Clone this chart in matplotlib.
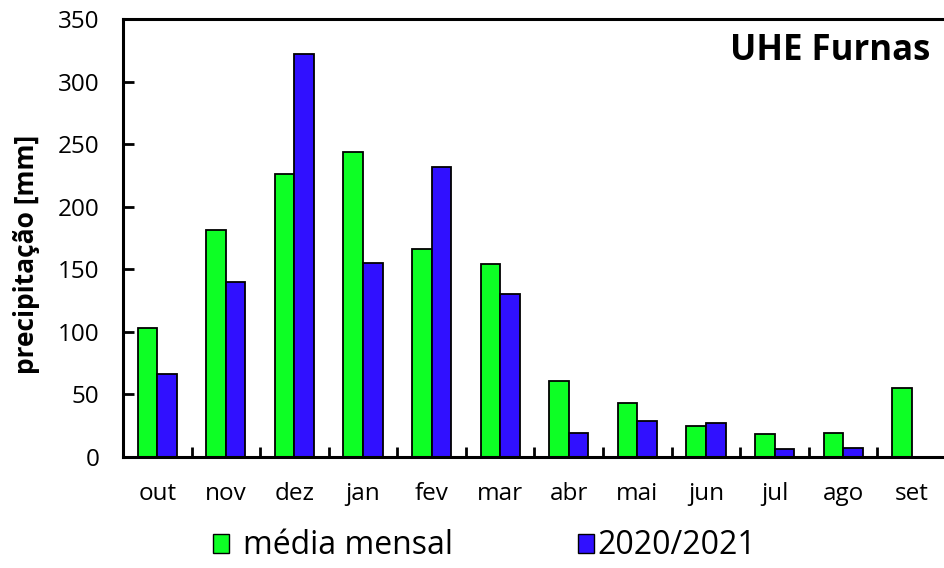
import matplotlib
matplotlib.use('Agg')
import matplotlib.pyplot as plt
import matplotlib.patches as mpatches
import numpy as np

meses = ['out', 'nov', 'dez', 'jan', 'fev', 'mar', 'abr', 'mai', 'jun', 'jul', 'ago', 'set']
media_mensal = [103, 181, 226, 244, 166, 154, 61, 43, 25, 18, 19, 55]
chuva_2020_2021 = [66, 140, 322, 155, 232, 130, 19, 29, 27, 6, 7, np.nan]
yticks = [0, 50, 100, 150, 200, 250, 300, 350]

plt.rcParams['font.family'] = ['Open Sans', 'DejaVu Sans']

verde = '#0dff25'
azul = '#3010ff'

fig = plt.figure(figsize=(9.44, 5.68), dpi=100)
ax = fig.add_axes([123 / 944, 1 - 457 / 568, 823 / 944, 438 / 568])

x = np.arange(len(meses)) + 0.5
w = 0.285
ax.bar(x - w / 2, media_mensal, w, color=verde, edgecolor='black', linewidth=1.3)
ax.bar(x + w / 2, chuva_2020_2021, w, color=azul, edgecolor='black', linewidth=1.3)

ax.set_xlim(0, len(meses))
ax.set_ylim(0, 350)
ax.set_yticks(yticks)
ax.set_xticks(x)
ax.set_xticklabels(meses)
ax.set_xticks(np.arange(1, len(meses)), minor=True)
ax.tick_params(axis='x', which='major', length=0, pad=18, labelsize=17.5)
ax.tick_params(axis='x', which='minor', direction='in', length=7, width=2)
ax.tick_params(axis='y', direction='in', length=8, width=2, pad=17, labelsize=17.5)

for s in ['left', 'top', 'bottom']:
    ax.spines[s].set_linewidth(2.2)
ax.spines['right'].set_visible(False)

ax.set_ylabel('precipitação [mm]', fontsize=19, fontweight='bold')
ax.yaxis.set_label_coords(-0.101, 0.463)
fig.text(930 / 944, 1 - 51 / 568, 'UHE Furnas', fontsize=25, fontweight='bold',
         ha='right', va='center')

leg1 = fig.legend(handles=[mpatches.Patch(facecolor=verde, edgecolor='black', label='média mensal')],
                  loc='center left', bbox_to_anchor=(213 / 944, 1 - 546 / 568),
                  frameon=False, fontsize=23, handlelength=0.5, handleheight=0.55,
                  handletextpad=0.45, borderpad=0, borderaxespad=0)
leg2 = fig.legend(handles=[mpatches.Patch(facecolor=azul, edgecolor='black', label='2020/2021')],
                  loc='center left', bbox_to_anchor=(578 / 944, 1 - 546 / 568),
                  frameon=False, fontsize=23, handlelength=0.5, handleheight=0.55,
                  handletextpad=0.12, borderpad=0, borderaxespad=0)

fig.savefig('out.png', dpi=100)
